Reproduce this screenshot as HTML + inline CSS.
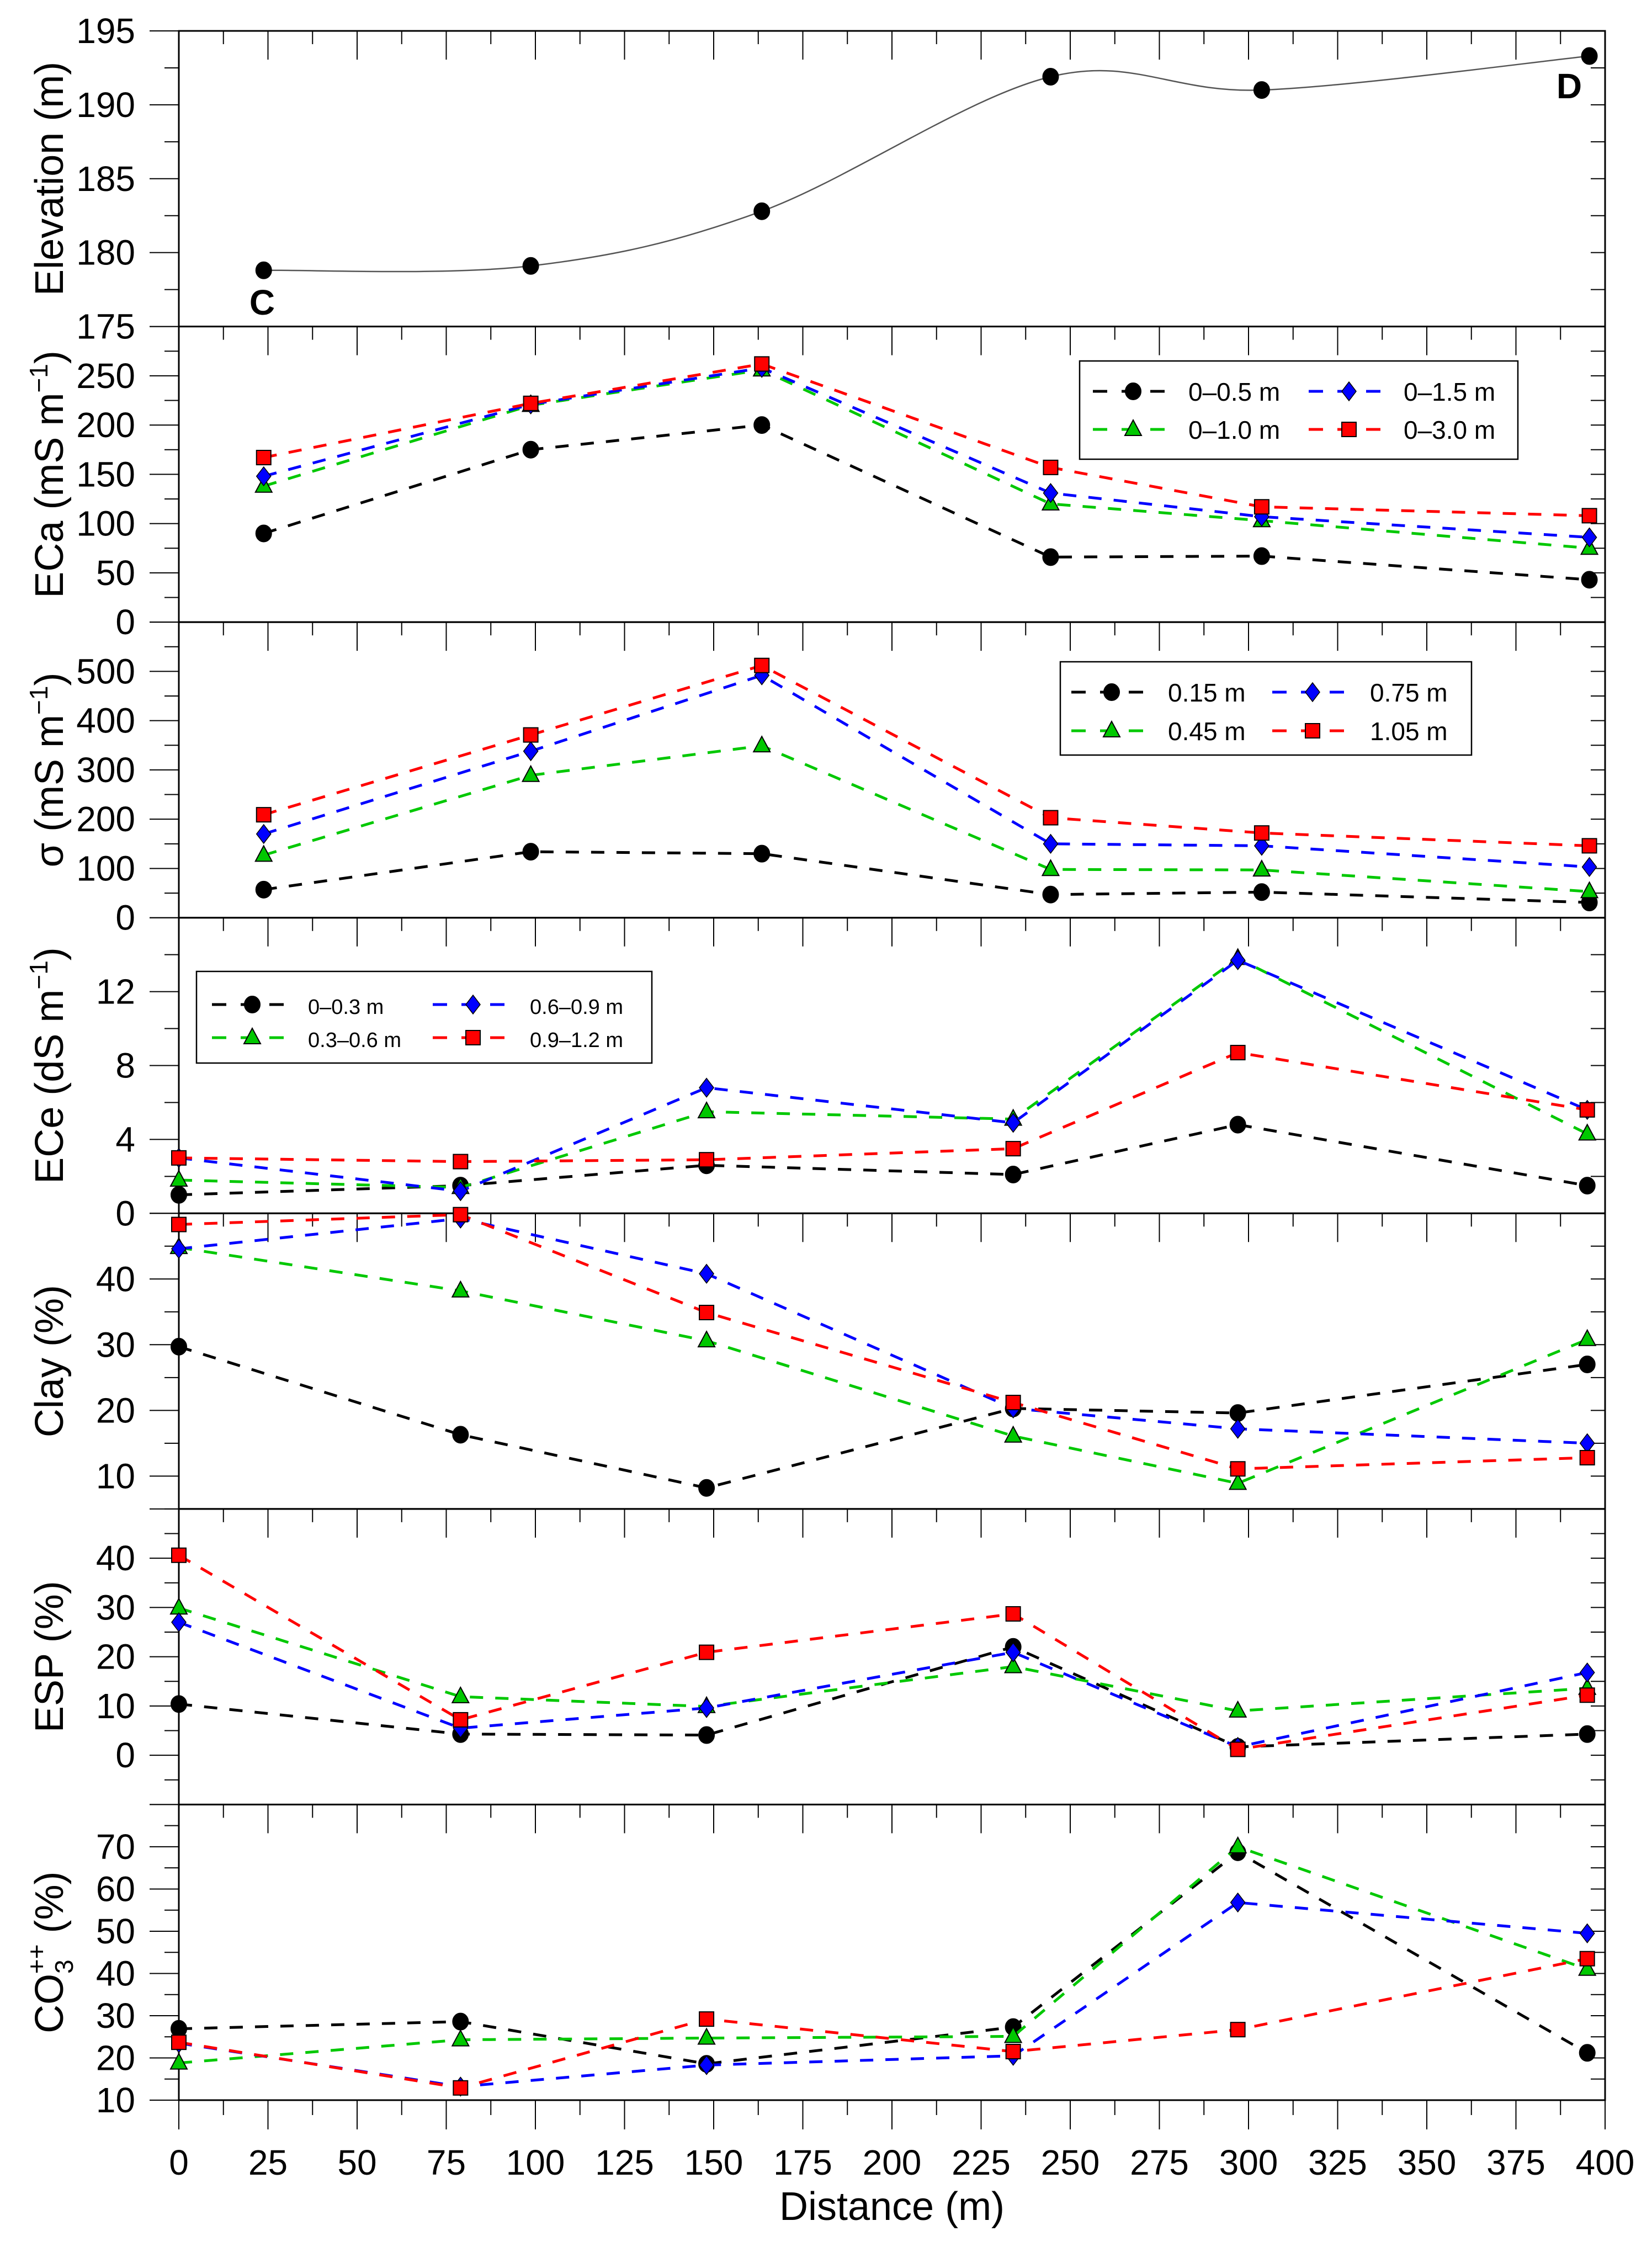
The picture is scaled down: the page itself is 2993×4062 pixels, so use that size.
<!DOCTYPE html>
<html><head><meta charset="utf-8"><style>
html,body{margin:0;padding:0;background:#fff}
svg{display:block}
text{font-family:"Liberation Sans",sans-serif;fill:#000}
</style></head><body>
<svg id="chart" width="2993" height="4062" viewBox="0 0 2993 4062" xmlns="http://www.w3.org/2000/svg"></svg>
<script>
// ---- data ----
const xElev = [23.8, 98.7, 163.5, 244.5, 303.7, 395.6];
const elevation = [178.8, 179.1, 182.8, 191.9, 191.0, 193.3];
const eca05 = [90, 175, 200, 66, 67, 43];
const eca10 = [138, 220, 256, 120, 103, 75];
const eca15 = [148, 221, 258, 131, 107, 86];
const eca30 = [167, 222, 262, 157, 117, 108];
const sig015 = [57, 134, 130, 47, 52, 31];
const sig045 = [127, 289, 349, 98, 97, 53];
const sig075 = [170, 338, 492, 150, 146, 103];
const sig105 = [209, 371, 512, 203, 172, 146];
const xSoil = [0, 79, 148, 234, 297, 395];
const ece03 = [1.0, 1.5, 2.6, 2.1, 4.8, 1.5];
const ece06 = [1.8, 1.4, 5.5, 5.1, 13.8, 4.3];
const ece09 = [3.0, 1.2, 6.8, 4.9, 13.7, 5.6];
const ece12 = [3.0, 2.8, 2.9, 3.5, 8.7, 5.6];
const clay03 = [29.7, 16.3, 8.2, 20.3, 19.6, 27.0];
const clay06 = [44.8, 38.2, 30.6, 16.1, 8.9, 30.8];
const clay09 = [44.6, 49.2, 40.8, 20.3, 17.2, 15.0];
const clay12 = [48.3, 49.8, 34.9, 21.2, 11.1, 12.8];
const esp03 = [10.4, 4.3, 4.1, 22.0, 1.7, 4.3];
const esp06 = [29.9, 11.9, 9.9, 18.0, 9.0, 13.6];
const esp09 = [27.0, 5.5, 9.6, 20.9, 1.7, 16.8];
const esp12 = [40.6, 7.2, 20.9, 28.7, 1.2, 12.2];
const co303 = [26.9, 28.6, 18.6, 27.3, 68.7, 21.2];
const co306 = [18.8, 24.3, 24.7, 25.1, 70.0, 41.0];
const co309 = [23.5, 13.2, 18.3, 20.5, 56.8, 49.5];
const co312 = [23.7, 12.9, 29.2, 21.5, 26.7, 43.5];
const xTicks = [0,25,50,75,100,125,150,175,200,225,250,275,300,325,350,375,400];

const NS='http://www.w3.org/2000/svg';
const svg=document.getElementById('chart');
const L=324,R=2908,T0=56,PH=535.57;
const X=v=>L+(v/400)*(R-L);
function el(tag,attrs,parent){const e=document.createElementNS(NS,tag);for(const k in attrs)e.setAttribute(k,attrs[k]);(parent||svg).appendChild(e);return e;}
const COL={k:'#000',g:'#00c800',b:'#0000ff',r:'#ff0000'};

function marker(g,type,cx,cy,c){
  let m;
  if(type==='circle') m=el('ellipse',{cx,cy,rx:14,ry:15,fill:c,stroke:'#000','stroke-width':2},g);
  else if(type==='tri') m=el('polygon',{points:`${cx},${cy-17} ${cx-15},${cy+11} ${cx+15},${cy+11}`,fill:c,stroke:'#000','stroke-width':2},g);
  else if(type==='dia') m=el('polygon',{points:`${cx},${cy-17} ${cx+13},${cy} ${cx},${cy+17} ${cx-13},${cy}`,fill:c,stroke:'#000','stroke-width':1.5},g);
  else m=el('rect',{x:cx-13,y:cy-13,width:26,height:26,fill:c,stroke:'#000','stroke-width':2},g);
  return m;
}

function panel(i,name,ymin,ymax,major,minor,labels){
  const top=T0+PH*i,bot=T0+PH*(i+1);
  const Y=v=>bot-(v-ymin)/(ymax-ymin)*(bot-top);
  const g=el('g',{});
  
  
  el('rect',{x:L,y:top,width:R-L,height:bot-top,fill:'none',stroke:'#000','stroke-width':3},g);
  // y ticks
  for(let v=ymin;v<=ymax+1e-9;v+=minor){
    const isMaj=Math.abs(v/major-Math.round(v/major))<1e-6;
    const y=Y(v);
    el('line',{x1:L-(isMaj?53:26),y1:y,x2:L,y2:y,stroke:'#000','stroke-width':2},g);
    el('line',{x1:R-26,y1:y,x2:R,y2:y,stroke:'#000','stroke-width':2},g);
  }
  labels.forEach(v=>{const t=el('text',{x:245,y:Y(v)+22,'font-size':64,'text-anchor':'end'},g);t.textContent=String(v);
    });
  // top ticks pointing down
  for(let d=0;d<=400;d+=12.5){const x=X(d);const maj=d%25===0;
    el('line',{x1:x,y1:top,x2:x,y2:top+(maj?52:24),stroke:'#000','stroke-width':2},g);}
  return {g,Y,top,bot};
}

function series(p,xs,ys,c,type,name){
  const g=el('g',{},p.g);
  
  
  const pts=xs.map((d,j)=>X(d)+','+p.Y(ys[j])).join(' ');
  el('polyline',{points:pts,fill:'none',stroke:c,'stroke-width':5,'stroke-dasharray':'24,22'},g);
  xs.forEach((d,j)=>{const m=marker(g,type,X(d),p.Y(ys[j]),c);
    });
}

function ytitle(p,lines){
  const cy=(p.top+p.bot)/2;
  const t=el('text',{x:0,y:0,'font-size':72,'text-anchor':'middle',transform:`translate(114,${cy}) rotate(-90)`},p.g);
  
  t.innerHTML=lines;
}

function legend(p,x,y,w,h,rows,fs,c1,c2,t1,t2){
  const g=el('g',{},p.g);
  
  
  el('rect',{x,y,width:w,height:h,fill:'#fff',stroke:'#000','stroke-width':2.5},g);
  rows.forEach(r=>{
    const cols=[[c1,t1],[c2,t2]];
    const mx=r.col===0?c1:c2,tx=r.col===0?t1:t2;
    const e=el('g',{},g);
    
    
    el('line',{x1:mx-73,y1:r.y,x2:mx+57,y2:r.y,stroke:r.c,'stroke-width':5,'stroke-dasharray':'26,26'},e);
    marker(e,r.type,mx,r.y,r.c);
    const t=el('text',{x:tx,y:r.y+17,'font-size':fs},e);t.textContent=r.label;
  });
}

// Panel 1 elevation
let p=panel(0,'elevation',175,195,5,2.5,[175,180,185,190,195]);
ytitle(p,'Elevation (m)');
(function(){
  const P=xElev.map((d,j)=>[X(d),p.Y(elevation[j])]);
  let dstr='M'+P[0][0]+','+P[0][1];
  for(let j=0;j<P.length-1;j++){
    const p0=P[j-1]||P[j],p1=P[j],p2=P[j+1],p3=P[j+2]||P[j+1];
    const c1=[p1[0]+(p2[0]-p0[0])/6,p1[1]+(p2[1]-p0[1])/6];
    const c2=[p2[0]-(p3[0]-p1[0])/6,p2[1]-(p3[1]-p1[1])/6];
    dstr+=` C${c1[0]},${c1[1]} ${c2[0]},${c2[1]} ${p2[0]},${p2[1]}`;
  }
  const path=el('path',{d:dstr,fill:'none',stroke:'#555','stroke-width':2.5},p.g);
  
  
  P.forEach(q=>{const m=marker(p.g,'circle',q[0],q[1],'#000');
    });
  const c=el('text',{x:475,y:570,'font-size':64,'font-weight':'bold','text-anchor':'middle'},p.g);c.textContent='C';
  
  const d=el('text',{x:2843,y:178,'font-size':64,'font-weight':'bold','text-anchor':'middle'},p.g);d.textContent='D';
  
})();

// Panel 2 ECa
p=panel(1,'eca',0,300,50,25,[0,50,100,150,200,250]);
ytitle(p,'ECa (mS m<tspan dy="-28" font-size="46">−1</tspan><tspan dy="28">)</tspan>');
series(p,xElev,eca05,COL.k,'circle','eca-0-0.5m');
series(p,xElev,eca10,COL.g,'tri','eca-0-1.0m');
series(p,xElev,eca15,COL.b,'dia','eca-0-1.5m');
series(p,xElev,eca30,COL.r,'sq','eca-0-3.0m');
legend(p,1956,654,794,178,[
 {col:0,y:709,c:COL.k,type:'circle',label:'0–0.5 m'},{col:1,y:709,c:COL.b,type:'dia',label:'0–1.5 m'},
 {col:0,y:778,c:COL.g,type:'tri',label:'0–1.0 m'},{col:1,y:778,c:COL.r,type:'sq',label:'0–3.0 m'}],46,2053,2444,2153,2543);

// Panel 3 sigma
p=panel(2,'sigma',0,600,100,50,[0,100,200,300,400,500]);
ytitle(p,'σ (mS m<tspan dy="-28" font-size="46">−1</tspan><tspan dy="28">)</tspan>');
series(p,xElev,sig015,COL.k,'circle','sigma-0.15m');
series(p,xElev,sig045,COL.g,'tri','sigma-0.45m');
series(p,xElev,sig075,COL.b,'dia','sigma-0.75m');
series(p,xElev,sig105,COL.r,'sq','sigma-1.05m');
legend(p,1921,1199,745,169,[
 {col:0,y:1254,c:COL.k,type:'circle',label:'0.15 m'},{col:1,y:1254,c:COL.b,type:'dia',label:'0.75 m'},
 {col:0,y:1324,c:COL.g,type:'tri',label:'0.45 m'},{col:1,y:1324,c:COL.r,type:'sq',label:'1.05 m'}],46,2014,2378,2116,2482);

// Panel 4 ECe
p=panel(3,'ece',0,16,4,2,[0,4,8,12]);
ytitle(p,'ECe (dS m<tspan dy="-28" font-size="46">−1</tspan><tspan dy="28">)</tspan>');
series(p,xSoil,ece03,COL.k,'circle','ece-0-0.3m');
series(p,xSoil,ece06,COL.g,'tri','ece-0.3-0.6m');
series(p,xSoil,ece09,COL.b,'dia','ece-0.6-0.9m');
series(p,xSoil,ece12,COL.r,'sq','ece-0.9-1.2m');
legend(p,356,1760,825,166,[
 {col:0,y:1820,c:COL.k,type:'circle',label:'0–0.3 m'},{col:1,y:1820,c:COL.b,type:'dia',label:'0.6–0.9 m'},
 {col:0,y:1880,c:COL.g,type:'tri',label:'0.3–0.6 m'},{col:1,y:1880,c:COL.r,type:'sq',label:'0.9–1.2 m'}],38,457,857,558,960);

// Panel 5 Clay
p=panel(4,'clay',5,50,10,5,[10,20,30,40]);
ytitle(p,'Clay (%)');
series(p,xSoil,clay03,COL.k,'circle','clay-0-0.3m');
series(p,xSoil,clay06,COL.g,'tri','clay-0.3-0.6m');
series(p,xSoil,clay09,COL.b,'dia','clay-0.6-0.9m');
series(p,xSoil,clay12,COL.r,'sq','clay-0.9-1.2m');

// Panel 6 ESP
p=panel(5,'esp',-10,50,10,5,[0,10,20,30,40]);
ytitle(p,'ESP (%)');
series(p,xSoil,esp03,COL.k,'circle','esp-0-0.3m');
series(p,xSoil,esp06,COL.g,'tri','esp-0.3-0.6m');
series(p,xSoil,esp09,COL.b,'dia','esp-0.6-0.9m');
series(p,xSoil,esp12,COL.r,'sq','esp-0.9-1.2m');

// Panel 7 CO3
p=panel(6,'carbonate',10,80,10,5,[10,20,30,40,50,60,70]);
ytitle(p,'CO<tspan dy="18" font-size="46">3</tspan><tspan dy="-50" dx="-26" font-size="46">++</tspan><tspan dy="32"> (%)</tspan>');
series(p,xSoil,co303,COL.k,'circle','co3-0-0.3m');
series(p,xSoil,co306,COL.g,'tri','co3-0.3-0.6m');
series(p,xSoil,co309,COL.b,'dia','co3-0.6-0.9m');
series(p,xSoil,co312,COL.r,'sq','co3-0.9-1.2m');

// bottom x axis ticks & labels
const bot=T0+PH*7;
for(let d=0;d<=400;d+=12.5){const x=X(d);const maj=d%25===0;
  el('line',{x1:x,y1:bot,x2:x,y2:bot+(maj?53:27),stroke:'#000','stroke-width':2});}
xTicks.forEach(v=>{const t=el('text',{x:X(v),y:3940,'font-size':64,'text-anchor':'middle'});t.textContent=String(v);
  });
const xt=el('text',{x:(L+R)/2,y:4022,'font-size':72,'text-anchor':'middle'});xt.textContent='Distance (m)';

</script>
</body></html>
